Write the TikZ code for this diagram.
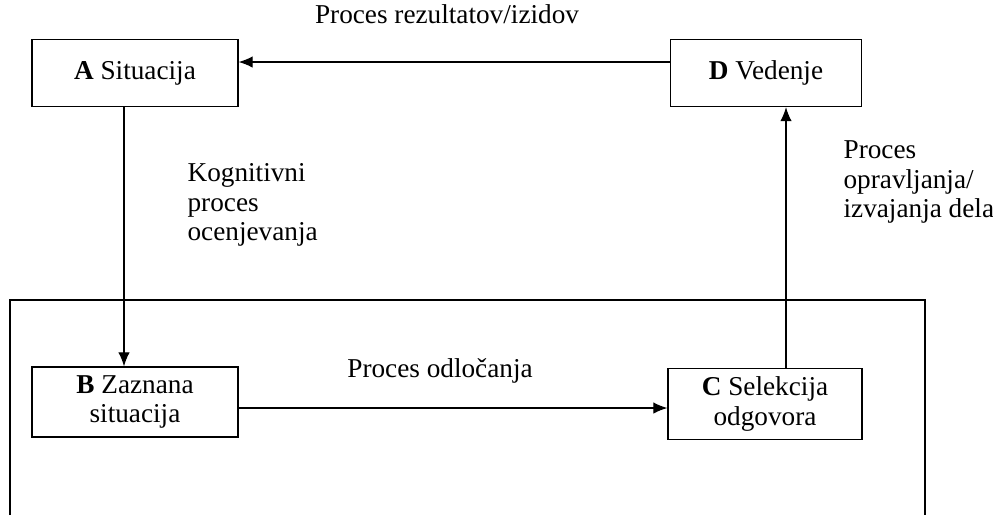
\documentclass[tikz,border=0pt]{standalone}
\usepackage{fontspec}
\setmainfont{Liberation Serif}
\usetikzlibrary{arrows.meta}

\begin{document}
\begin{tikzpicture}[
		x=0.02cm, y=-0.02cm,
		line width=0.7pt,
		every node/.style={font=\fontsize{15.5}{17}\selectfont},
		box/.style={draw, minimum height=1.34cm, align=center},
		lbl/.style={inner sep=0pt, align=left},
		arr/.style={-{Latex[length=8pt, width=6.5pt]}}
	]
		\useasboundingbox (0,0) rectangle (993,515);

		\node[box, minimum width=4.12cm] (A) at (135, 73) {\textbf{A} Situacija};
		\node[box, minimum width=3.82cm] (D) at (766, 73) {\textbf{D} Vedenje};
		\node[box, minimum width=4.12cm, minimum height=1.4cm] (B) at (135, 402) {\textbf{B} Zaznana\\situacija};
		\node[box, minimum width=3.88cm, minimum height=1.42cm] (C) at (765, 404) {\textbf{C} Selekcija\\odgovora};

		% okvir
		\draw (10, 515) -- (10, 300) -- (925, 300) -- (925, 515);

		\node[lbl] (rez) at (447, 14) {Proces rezultatov/izidov};
		\node[lbl, anchor=west] (kog) at (187, 205) {Kognitivni\\proces\\ocenjevanja};
		\node[lbl, anchor=west] (opr) at (843, 182) {Proces\\opravljanja/\\izvajanja dela};
		\node[lbl] (odl) at (440, 371) {Proces odločanja};

		\draw[arr] ([yshift=0.22cm]D.west) -- ([yshift=0.22cm]D.west -| A.east);
		\draw[arr] ([xshift=-0.22cm]A.south) -- ([xshift=-0.22cm]A.south |- B.north);
		\draw[arr] ([yshift=-0.12cm]B.east) -- ([yshift=-0.12cm]B.east -| C.west);
		\draw[arr] ([xshift=0.42cm]C.north) -- ([xshift=0.42cm]C.north |- D.south);
	\end{tikzpicture}
\end{document}
